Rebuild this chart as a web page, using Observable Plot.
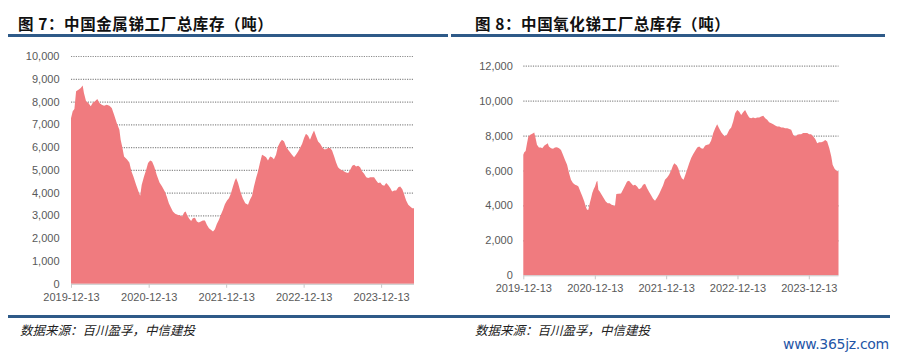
<!DOCTYPE html>
<html>
<head>
<meta charset="utf-8">
<script src="https://cdn.jsdelivr.net/npm/d3@7"></script>
<script src="https://cdn.jsdelivr.net/npm/@observablehq/plot@0.6"></script>
<style>
  html, body { margin: 0; padding: 0; background: #fff; }
  #page { position: relative; width: 902px; height: 358px; overflow: hidden; background: #fff; }
  .title { position: absolute; top: 13px; font-family: "Noto Sans CJK SC", sans-serif; font-weight: bold; font-size: 15.5px; letter-spacing: 0.6px; color: #111; white-space: nowrap; line-height: 20px; }
  .rule { position: absolute; height: 2.5px; background: #2e5a88; }
  .foot { position: absolute; top: 321px; font-family: "Noto Sans CJK SC", sans-serif; font-style: italic; font-size: 12.5px; color: #222; white-space: nowrap; line-height: 18px; }
  .chart { position: absolute; top: 40px; }
  .wm { position: absolute; left: 783px; top: 336px; font-family: "DejaVu Sans", sans-serif; font-size: 14px; color: #1f55a6; white-space: nowrap; letter-spacing: -0.3px; }
</style>
</head>
<body>
<div id="page">
  <div class="title" style="left:18px">图 7：中国金属锑工厂总库存（吨）</div>
  <div class="title" style="left:475px">图 8：中国氧化锑工厂总库存（吨）</div>
  <div class="rule" style="left:8px; width:440px; top:34px"></div>
  <div class="rule" style="left:451px; width:434px; top:34px"></div>
  <div id="left" class="chart" style="left:0px"></div>
  <div id="right" class="chart" style="left:450px"></div>
  <div class="rule" style="left:8px; width:882px; top:315px"></div>
  <div class="foot" style="left:20px">数据来源：百川盈孚，中信建投</div>
  <div class="foot" style="left:475px">数据来源：百川盈孚，中信建投</div>
  <div class="wm">www.365jz.com</div>
</div>
<script>
// Start date of both series; x values are days after this date
const startDate = "2019-12-13";
const xTickLabels = ["2019-12-13", "2020-12-13", "2021-12-13", "2022-12-13", "2023-12-13"];
const metalYTicks = [0, 1000, 2000, 3000, 4000, 5000, 6000, 7000, 8000, 9000, 10000];
const oxideYTicks = [0, 2000, 4000, 6000, 8000, 10000, 12000];

// 中国金属锑工厂总库存（吨）: [days after start, tonnes]
const metalSeries = [
  [0,7270],[8,7570],[16,7670],[24,8450],[35,8520],[46,8600],[55,8700],[61,8380],[71,8010],[82,7940],
  [93,7790],[102,7940],[113,8010],[124,8110],[134,7940],[145,7860],[156,7820],[168,7860],[181,7820],[192,7720],
  [203,7420],[216,7050],[228,6760],[234,6320],[241,6030],[250,5590],[263,5470],[275,5330],[285,4930],[294,4710],
  [307,4340],[318,4050],[326,3860],[333,4340],[344,4710],[354,5000],[363,5300],[373,5410],[382,5370],[392,5150],
  [404,4780],[417,4450],[429,4270],[442,4050],[451,3830],[461,3540],[470,3360],[480,3170],[491,3070],[502,3030],
  [514,3000],[524,2950],[533,3130],[540,3170],[549,2980],[558,2840],[566,2760],[574,2880],[584,2900],[593,2730],
  [602,2690],[612,2730],[621,2780],[631,2780],[640,2590],[650,2440],[659,2370],[669,2300],[678,2400],[687,2630],
  [697,2810],[706,3030],[716,3250],[725,3490],[735,3660],[744,3760],[753,3950],[763,4270],[772,4540],[778,4640],
  [787,4420],[798,4050],[809,3760],[821,3540],[834,3470],[843,3690],[853,3860],[862,4270],[872,4640],[881,4930],
  [890,5300],[900,5670],[909,5620],[919,5560],[928,5410],[938,5590],[947,5560],[956,5470],[966,5670],[975,6030],
  [985,6210],[994,6320],[1004,6250],[1013,6030],[1023,5880],[1032,5770],[1041,5670],[1051,5560],[1060,5670],[1070,5810],
  [1079,5960],[1089,6150],[1098,6400],[1107,6590],[1117,6500],[1126,6320],[1136,6550],[1145,6730],[1155,6470],[1164,6250],
  [1174,6150],[1183,6000],[1192,5910],[1202,5910],[1211,5960],[1221,5960],[1230,5850],[1240,5590],[1249,5330],[1258,5120],
  [1268,5030],[1277,4980],[1287,4930],[1296,4890],[1306,4860],[1315,5000],[1325,5180],[1334,5230],[1343,5150],[1353,5180],
  [1362,5120],[1372,4930],[1381,4830],[1391,4680],[1400,4640],[1410,4680],[1419,4680],[1428,4680],[1438,4540],[1447,4420],
  [1457,4450],[1466,4340],[1476,4300],[1485,4420],[1494,4340],[1504,4200],[1513,4050],[1523,4100],[1532,4100],[1542,4240],
  [1551,4270],[1561,4150],[1570,3910],[1579,3660],[1589,3470],[1598,3390],[1608,3320],[1616,3320]
];

// 中国氧化锑工厂总库存（吨）: [days after start, tonnes]
const oxideSeries = [
  [0,6900],[5,7050],[12,7120],[19,7560],[26,7940],[36,8040],[46,8100],[56,8170],[63,7850],[70,7470],
  [80,7320],[90,7320],[97,7280],[108,7430],[118,7510],[125,7560],[131,7370],[142,7280],[152,7240],[162,7320],
  [172,7330],[183,7280],[193,7180],[203,6900],[213,6610],[224,6330],[234,5850],[244,5470],[254,5280],[265,5180],
  [275,5140],[282,5090],[292,4800],[302,4520],[312,4230],[319,3950],[326,3750],[333,3750],[340,4130],[347,4420],
  [353,4710],[360,4930],[367,5090],[374,5340],[379,5410],[384,4900],[391,4800],[401,4610],[411,4420],[422,4230],
  [432,4130],[442,4130],[452,4040],[463,4000],[469,3950],[476,4650],[486,4670],[500,4680],[510,4900],[521,5140],
  [531,5370],[541,5410],[551,5280],[562,5140],[572,5180],[582,5090],[592,4920],[603,5000],[613,5180],[623,5240],
  [633,5000],[644,4770],[654,4580],[664,4380],[674,4270],[685,4460],[695,4650],[705,4900],[715,5140],[725,5470],
  [736,5600],[746,5750],[756,5980],[766,6290],[773,6420],[786,6290],[794,6100],[803,5750],[811,5560],[820,5470],
  [828,5710],[838,6040],[849,6420],[859,6710],[869,6930],[879,7120],[890,7320],[900,7370],[910,7280],[920,7240],
  [931,7430],[941,7470],[951,7510],[961,7700],[972,8140],[982,8420],[992,8650],[1002,8420],[1013,8190],[1023,8040],
  [1033,7940],[1043,8080],[1054,8330],[1064,8460],[1074,8800],[1084,9280],[1095,9470],[1105,9370],[1115,9180],[1125,9330],
  [1135,9470],[1146,9220],[1156,9030],[1166,8990],[1176,9030],[1187,8990],[1197,9030],[1207,9030],[1217,9090],[1228,9140],
  [1238,8990],[1248,8900],[1258,8760],[1269,8710],[1279,8650],[1289,8570],[1299,8520],[1310,8520],[1320,8460],[1330,8460],
  [1340,8420],[1351,8420],[1361,8380],[1371,8330],[1381,8040],[1392,7940],[1402,8040],[1412,8080],[1422,8080],[1432,8140],
  [1443,8140],[1453,8140],[1463,8080],[1473,8080],[1484,7940],[1494,7810],[1504,7560],[1514,7620],[1525,7620],[1535,7660],
  [1545,7750],[1555,7660],[1566,7280],[1576,6800],[1583,6330],[1593,6100],[1603,5980],[1613,5940]
];

const start = d3.utcParse("%Y-%m-%d")(startDate);
const toRows = (s) => s.map(([d, v]) => ({date: d3.utcDay.offset(start, d), value: v}));
const xTicks = xTickLabels.map(d3.utcParse("%Y-%m-%d"));
const fill = "#f07b7f";

function chart(rows, yTicks, opts) {
  const gridTicks = yTicks.filter(t => t > 0);
  return Plot.plot({
    width: opts.width, height: 270,
    marginLeft: opts.ml, marginRight: opts.mr, marginTop: opts.mt, marginBottom: opts.mb,
    style: {fontFamily: "'Liberation Sans', Arial, sans-serif", fontSize: "11px", color: "#595959", background: "transparent", overflow: "visible"},
    x: {type: "utc", domain: d3.extent(rows, d => d.date), label: null},
    y: {domain: [yTicks[0], yTicks[yTicks.length - 1]], label: null},
    marks: [
      Plot.ruleY(gridTicks, {stroke: "#8c8c8c", strokeWidth: 1.2, strokeDasharray: "1.2,1.2"}),
      Plot.areaY(rows, {x: "date", y: "value", fill: fill, curve: "linear"}),
      Plot.ruleY([0], {stroke: "#c8c8c8"}),
      Plot.axisY({ticks: yTicks, tickSize: 0, tickPadding: opts.yPad, tickFormat: d3.format(","), fill: "#595959", label: null}),
      Plot.axisX({ticks: xTicks, tickSize: 4, tickPadding: opts.xPad, stroke: "#c8c8c8", tickFormat: d3.utcFormat("%Y-%m-%d"), fill: "#595959", label: null})
    ]
  });
}

document.getElementById("left").append(
  chart(toRows(metalSeries), metalYTicks, {width: 450, ml: 71, mr: 36, mt: 16, mb: 26.2, yPad: 12, xPad: 5})
);
document.getElementById("right").append(
  chart(toRows(oxideSeries), oxideYTicks, {width: 452, ml: 73.3, mr: 63.5, mt: 25.7, mb: 34.7, yPad: 11, xPad: 4})
);
</script>
</body>
</html>
